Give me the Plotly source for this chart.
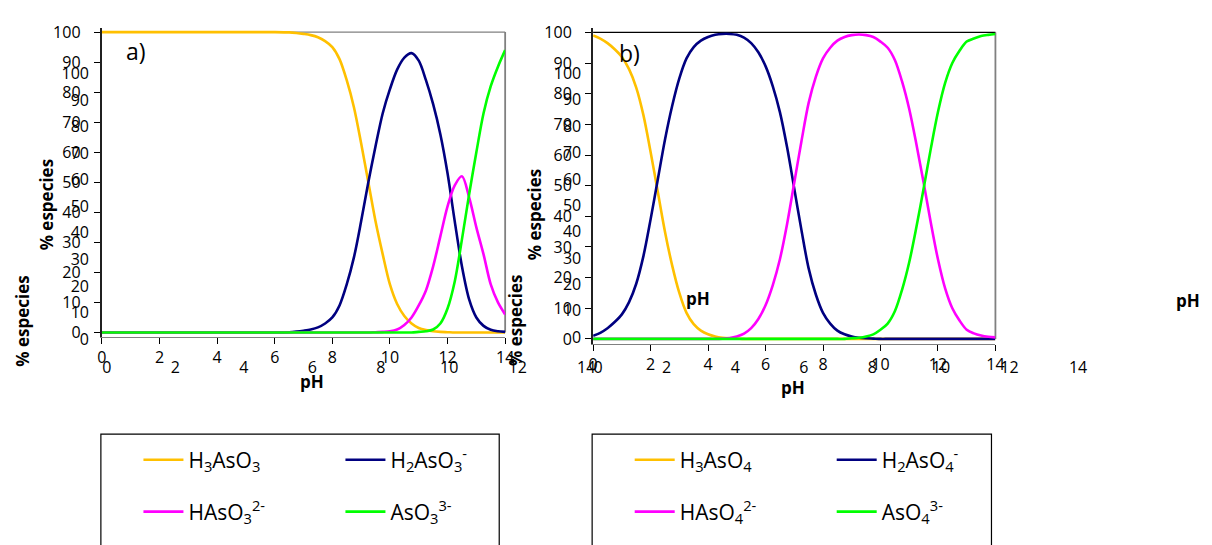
import plotly.graph_objects as go

W, H = 1212, 545

# ---------------- data ----------------
pH_a = [0, 2, 4, 6, 6.5, 6.75, 7, 7.25, 7.5, 7.75, 8, 8.25, 8.5, 8.75, 9, 9.25, 9.5, 9.75,
        10, 10.25, 10.5, 10.75, 11, 11.25, 11.5, 11.75, 12, 12.25, 12.5, 12.75, 13, 13.25,
        13.5, 13.75, 14]
H3AsO3 = [100, 100, 100, 100, 99.9, 99.7, 99.4, 99, 98.3, 97, 95, 91, 84, 75, 63, 50, 37, 26,
          16, 9.5, 5.5, 3, 1.5, 0.8, 0.4, 0.2, 0.1, 0, 0, 0, 0, 0,
          0, 0, 0]
H2AsO3 = [0, 0, 0, 0, 0.1, 0.3, 0.6, 1, 1.7, 3, 5, 9, 16, 25, 37, 50, 62, 73,
          81, 87.5, 91.5, 93, 90.5, 84, 76, 66, 53, 37, 22, 11, 5, 2.2,
          0.9, 0.4, 0.2]
HAsO3 = [0, 0, 0, 0, 0, 0, 0, 0, 0, 0, 0, 0, 0, 0, 0, 0, 0.1, 0.2,
         0.4, 1, 2.5, 5, 9, 14, 22, 32, 42, 49, 52, 45, 35, 26,
         16, 10, 6]
AsO3 = [0, 0, 0, 0, 0, 0, 0, 0, 0, 0, 0, 0, 0, 0, 0, 0, 0, 0,
        0, 0, 0, 0, 0.2, 0.4, 1, 3, 8, 17, 31, 46, 60, 73,
        82, 88.5, 94]

pH_b = [0, 0.25, 0.5, 0.75, 1, 1.25, 1.5, 1.75, 2, 2.25, 2.5, 2.75, 3, 3.25, 3.5, 3.75,
        4, 4.25, 4.5, 4.75, 5, 5.25, 5.5, 5.75, 6, 6.25, 6.5, 6.75, 7, 7.25, 7.5, 7.75,
        8, 8.25, 8.5, 8.75, 9, 9.25, 9.5, 9.75, 10, 10.25, 10.5, 10.75, 11, 11.25, 11.5, 11.75,
        12, 12.25, 12.5, 12.75, 13, 13.25, 13.5, 13.75, 14]
H3AsO4 = [99, 98, 96.5, 94.5, 92, 88, 82, 73, 61, 48, 35, 24, 15, 8.5, 4.8, 2.7,
          1.5, 0.8, 0.4, 0.2, 0.1, 0, 0, 0, 0, 0, 0, 0, 0, 0, 0, 0,
          0, 0, 0, 0, 0, 0, 0, 0, 0, 0, 0, 0, 0, 0, 0, 0,
          0, 0, 0, 0, 0, 0, 0, 0, 0]
H2AsO4 = [1, 2, 3.5, 5.5, 8, 12, 18, 27, 39, 52, 65, 76, 85, 91.5, 95.2, 97.3,
          98.5, 99.2, 99.5, 99.5, 99.2, 98.3, 96.5, 93.5, 89, 82.5, 74, 62.5, 49, 35.5, 23, 14.5,
          8.5, 5, 2.7, 1.5, 0.8, 0.4, 0.2, 0.1, 0, 0, 0, 0, 0, 0, 0, 0,
          0, 0, 0, 0, 0, 0, 0, 0, 0]
HAsO4 = [0, 0, 0, 0, 0, 0, 0, 0, 0, 0, 0, 0, 0, 0, 0, 0,
         0, 0, 0.1, 0.3, 0.8, 1.7, 3.5, 6.5, 11, 17.5, 26, 37.5, 51, 64.5, 77, 85.5,
         91.5, 95, 97.3, 98.5, 99.1, 99.3, 99.1, 98.5, 97, 95, 91, 84, 75, 63.5, 51, 38,
         26, 16.5, 10, 6, 3, 1.8, 1.1, 0.7, 0.5]
AsO4 = [0, 0, 0, 0, 0, 0, 0, 0, 0, 0, 0, 0, 0, 0, 0, 0,
        0, 0, 0, 0, 0, 0, 0, 0, 0, 0, 0, 0, 0, 0, 0, 0,
        0, 0, 0, 0, 0.2, 0.4, 0.8, 1.5, 3, 5, 9, 16, 25, 36.5, 49, 62,
        74, 83.5, 90, 94, 97, 98, 98.8, 99.2, 99.5]

names_a = ["H<sub>3</sub>AsO<sub>3</sub>", "H<sub>2</sub>AsO<sub>3</sub><sup>-</sup>",
           "HAsO<sub>3</sub><sup>2-</sup>", "AsO<sub>3</sub><sup>3-</sup>"]
names_b = ["H<sub>3</sub>AsO<sub>4</sub>", "H<sub>2</sub>AsO<sub>4</sub><sup>-</sup>",
           "HAsO<sub>4</sub><sup>2-</sup>", "AsO<sub>4</sub><sup>3-</sup>"]
colors = ["#FFC000", "#000080", "#FF00FF", "#00FF00"]

x_ticks = [0, 2, 4, 6, 8, 10, 12, 14]
y_ticks = [0, 10, 20, 30, 40, 50, 60, 70, 80, 90, 100]

FONT = "Open Sans"


def px(x):
    return x / W


def py(y):
    return 1 - y / H


fig = go.Figure()

series_a = [H3AsO3, H2AsO3, HAsO3, AsO3]
series_b = [H3AsO4, H2AsO4, HAsO4, AsO4]
legends_a = ["legend", "legend", "legend2", "legend2"]
legends_b = ["legend3", "legend3", "legend4", "legend4"]

for vals, name, col, lg in zip(series_a, names_a, colors, legends_a):
    fig.add_trace(go.Scatter(x=pH_a, y=vals, name=name, mode="lines",
                             line=dict(color=col, width=2.6, shape="spline", smoothing=0.9),
                             xaxis="x", yaxis="y", legend=lg))
for vals, name, col, lg in zip(series_b, names_b, colors, legends_b):
    fig.add_trace(go.Scatter(x=pH_b, y=vals, name=name, mode="lines",
                             line=dict(color=col, width=2.6, shape="spline", smoothing=0.9),
                             xaxis="x2", yaxis="y2", legend=lg))

# dummy traces so the ghost axes are drawn
fig.add_trace(go.Scatter(x=[None], y=[None], xaxis="x3", yaxis="y3", showlegend=False, hoverinfo="skip"))
fig.add_trace(go.Scatter(x=[None], y=[None], xaxis="x4", yaxis="y4", showlegend=False, hoverinfo="skip"))

tickfont = dict(family=FONT, size=16, color="#000000")

main_x = dict(range=[0, 14], tickvals=x_ticks, ticks="outside", ticklen=6, tickcolor="#000",
              showline=True, linecolor="#808080", linewidth=1, showgrid=False, zeroline=False,
              tickfont=tickfont, ticklabelstandoff=0)
main_y = dict(range=[-1.5, 101.5], tickvals=y_ticks, ticks="outside", ticklen=6, tickcolor="#000",
              showline=True, linecolor="#202020", linewidth=2.2, showgrid=False, zeroline=False,
              tickfont=tickfont, ticklabelstandoff=10)
ghost_x = dict(range=[0, 14], tickvals=x_ticks, ticks="", showline=False, showgrid=False,
               zeroline=False, tickfont=tickfont, anchor="free")
ghost_y = dict(range=[0, 100], tickvals=y_ticks, ticks="", showline=False, showgrid=False,
               zeroline=False, tickfont=tickfont, anchor="free")

fig.update_layout(
    # panel a main: pH0 at x=98, pH14 at 506; 0 at y=335, 100 at y=22
    xaxis=dict(domain=[px(98), px(506)], anchor="y", **main_x),
    yaxis=dict(domain=[py(339.7), py(17.3)], anchor="x", **main_y),
    # panel b main: pH0 at x=595, pH14 at 1002; 0 at y=341.7, 100 at y=22.3
    xaxis2=dict(domain=[px(595), px(1002)], anchor="y2", **main_x),
    yaxis2=dict(domain=[py(346.5), py(17.5)], anchor="x2", **main_y),
    # ghost axes
    xaxis3=dict(domain=[px(103), px(588)], position=py(359), **ghost_x),
    yaxis3=dict(domain=[py(342), py(65)], position=px(85), **ghost_y),
    xaxis4=dict(domain=[px(600), px(1085.6)], position=py(359), **ghost_x),
    yaxis4=dict(domain=[py(340), py(65)], position=px(583), **ghost_y),
)

leg_common = dict(orientation="h", xanchor="left", yanchor="middle", entrywidth=147,
                  entrywidthmode="pixels", bgcolor="rgba(0,0,0,0)", borderwidth=0,
                  font=dict(family=FONT, size=21, color="#000"), itemwidth=40,
                  itemclick=False, itemdoubleclick=False)
fig.update_layout(
    legend=dict(x=px(135), y=py(468), **leg_common),
    legend2=dict(x=px(135), y=py(522), **leg_common),
    legend3=dict(x=px(632), y=py(468), **leg_common),
    legend4=dict(x=px(632), y=py(522), **leg_common),
)

shapes = [
    # legend boxes
    dict(type="rect", xref="paper", yref="paper", x0=px(97), x1=px(500), y0=py(560), y1=py(441),
         line=dict(color="#000", width=1.2), fillcolor="rgba(0,0,0,0)"),
    dict(type="rect", xref="paper", yref="paper", x0=px(594), x1=px(998), y0=py(560), y1=py(441),
         line=dict(color="#000", width=1.2), fillcolor="rgba(0,0,0,0)"),
    # right borders
    dict(type="line", xref="x domain", yref="y", x0=1, x1=1, y0=0, y1=100,
         line=dict(color="#808080", width=1.8), layer="below"),
    dict(type="line", xref="x2 domain", yref="y2", x0=1, x1=1, y0=0, y1=100,
         line=dict(color="#808080", width=1.8), layer="below"),
    # top borders
    dict(type="line", xref="x domain", yref="y", x0=0, x1=1, y0=100, y1=100,
         line=dict(color="#808080", width=1.2), layer="below"),
    dict(type="line", xref="x2 domain", yref="y2", x0=0, x1=1, y0=100, y1=100,
         line=dict(color="#000", width=1.2), layer="below"),
]


def ann(text, x, y, size=17, bold=False, angle=0):
    t = f"<b>{text}</b>" if bold else text
    return dict(text=t, x=px(x), y=py(y), xref="paper", yref="paper", showarrow=False,
                xanchor="center", yanchor="middle", textangle=angle,
                font=dict(family=FONT, size=size, color="#000"))


annotations = [
    ann("a)", 133, 42, size=23),
    ann("b)", 632, 44, size=23),
    ann("% especies", 42, 202, bold=True, angle=-90),
    ann("% especies", 18, 323, bold=True, angle=-90),
    ann("% especies", 536, 212, bold=True, angle=-90),
    ann("% especies", 517, 323, bold=True, angle=-90),
    ann("pH", 311, 386, bold=True),
    ann("pH", 797, 392, bold=True),
    ann("pH", 701, 300, bold=True),
    ann("pH", 1197, 302, bold=True),
]

fig.update_layout(
    width=W, height=H, margin=dict(l=0, r=0, t=0, b=0),
    paper_bgcolor="white", plot_bgcolor="rgba(0,0,0,0)",
    font=dict(family=FONT, size=16, color="#000"),
    shapes=shapes, annotations=annotations, hovermode=False,
)

fig.write_html("out.html")
